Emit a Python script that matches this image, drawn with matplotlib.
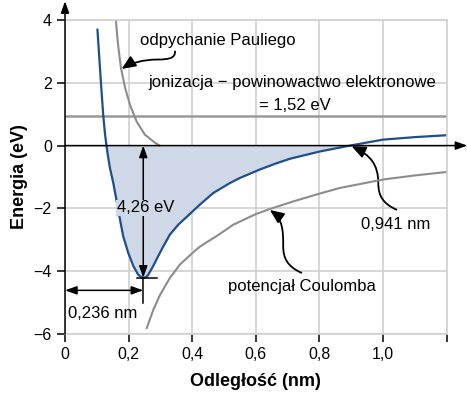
import numpy as np
import matplotlib.pyplot as plt
from matplotlib.patches import FancyArrowPatch
from matplotlib.path import Path

plt.rcParams['font.family'] = ['Liberation Sans', 'DejaVu Sans']

# energia czasteczki (niebieska krzywa)
r_mol = [0.102, 0.113, 0.120, 0.126, 0.133, 0.141, 0.152, 0.162, 0.173, 0.183,
         0.199, 0.215, 0.230, 0.240, 0.249, 0.256, 0.262, 0.277, 0.293, 0.309,
         0.330, 0.356, 0.388, 0.424, 0.466, 0.519, 0.55, 0.613, 0.66, 0.707,
         0.80, 0.896, 1.0, 1.1, 1.2]
e_mol = [3.69, 2.0, 0.99, 0.35, -0.2, -0.7, -1.2, -1.75, -2.36, -2.89,
         -3.42, -3.84, -4.11, -4.19, -4.21, -4.18, -4.11, -3.84, -3.52, -3.21,
         -2.83, -2.52, -2.22, -1.88, -1.51, -1.19, -1.03, -0.76, -0.58, -0.42,
         -0.19, 0.0, 0.19, 0.27, 0.33]

# odpychanie Pauliego
r_pauli = [0.160, 0.164, 0.168, 0.176, 0.189, 0.204, 0.225, 0.251, 0.283, 0.298]
e_pauli = [4.0, 3.5, 3.11, 2.47, 1.84, 1.31, 0.77, 0.35, 0.09, 0.0]

# potencjal Coulomba
r_coul = [0.257, 0.278, 0.299, 0.330, 0.346, 0.361, 0.403, 0.424, 0.445, 0.477,
          0.529, 0.60, 0.644, 0.717, 0.80, 0.864, 1.0, 1.1, 1.2]
e_coul = [-5.81, -5.22, -4.75, -4.21, -4.0, -3.79, -3.40, -3.22, -3.08, -2.88,
          -2.52, -2.18, -2.02, -1.78, -1.53, -1.35, -1.08, -0.95, -0.84]

e_ion = 0.955      # poziom jonizacja - powinowactwo (rysunek)
r_min = 0.246
e_min = -4.21

blue = '#1f4f8b'
gray = '#8c8c8c'
fs = 12

fig = plt.figure(figsize=(4.67, 3.96), dpi=100)
ax = fig.add_axes([0.1392, 0.1566, 0.8173, 0.7929])
ax.set_xlim(0, 1.2)
ax.set_ylim(-6, 4)

ax.set_xticks([0, 0.2, 0.4, 0.6, 0.8, 1.0, 1.2])
ax.set_xticklabels(['0', '0,2', '0,4', '0,6', '0,8', '1,0', ''])
ax.set_yticks([-6, -4, -2, 0, 2, 4])
ax.set_yticklabels(['\u22126', '\u22124', '\u22122', '0', '2', '4'])
ax.tick_params(labelsize=11.5, length=6, width=1.1, color='black')
ax.grid(True, color='#d0d0d0', lw=1.2)
ax.set_axisbelow(True)
for s in ['top', 'right', 'bottom']:
    ax.spines[s].set_color('#d0d0d0')
    ax.spines[s].set_linewidth(1.2)
ax.spines['left'].set_visible(False)

# osie ze strzalkami
ax.annotate('', xy=(0, 4.6), xytext=(0, -6), annotation_clip=False,
            arrowprops=dict(arrowstyle='-|>,head_length=0.7,head_width=0.25',
                            color='black', lw=1.1, shrinkA=0, shrinkB=0))
ax.annotate('', xy=(1.265, 0), xytext=(0, 0), annotation_clip=False,
            arrowprops=dict(arrowstyle='-|>,head_length=0.7,head_width=0.25',
                            color='black', lw=1.1, shrinkA=0, shrinkB=0))

r_arr = np.array(r_mol)
e_arr = np.array(e_mol)
ax.fill_between(r_arr, e_arr, 0, where=e_arr <= 0, interpolate=True,
                color='#cfd8e6', lw=0)

ax.axhline(e_ion, color='#999999', lw=1.8)
ax.plot(r_pauli, e_pauli, color=gray, lw=1.5)
ax.plot(r_coul, e_coul, color=gray, lw=1.5)
ax.plot(r_mol, e_mol, color=blue, lw=1.6)

# strzalka 4,26 eV
ax.plot([r_min, r_min], [e_min, -5.0], color='black', lw=1.1)
ax.plot([0.225, 0.288], [e_min, e_min], color='black', lw=1.1)
ax.annotate('', xy=(r_min, 0), xytext=(r_min, e_min),
            arrowprops=dict(arrowstyle='<|-|>,head_length=0.7,head_width=0.25',
                            color='black', lw=1.1, shrinkA=0, shrinkB=0))
ax.text(0.253, -1.98, '4,26 eV', ha='center', va='center', fontsize=fs,
        bbox=dict(facecolor='#cfd8e6', edgecolor='none', pad=0.5))

# strzalka 0,236 nm
ax.annotate('', xy=(r_min, -4.61), xytext=(0, -4.61),
            arrowprops=dict(arrowstyle='<|-|>,head_length=0.7,head_width=0.25',
                            color='black', lw=1.1, shrinkA=0, shrinkB=0))
ax.text(0.118, -5.35, '0,236 nm', ha='center', va='center', fontsize=fs)

ax.text(0.479, 3.34, 'odpychanie Pauliego', ha='center', va='center', fontsize=fs)
ax.text(0.714, 2.0, 'jonizacja \u2212 powinowactwo elektronowe', ha='center',
        va='center', fontsize=fs)
ax.text(0.724, 1.27, '= 1,52 eV', ha='center', va='center', fontsize=fs)
ax.text(1.04, -2.52, '0,941 nm', ha='center', va='center', fontsize=fs)
ax.text(0.744, -4.49, 'potencja\u0142 Coulomba', ha='center', va='center', fontsize=fs)

C = Path.CURVE4
curves = [
    [(0.346, 3.0), (0.346, 2.82), (0.335, 2.74), (0.290, 2.74),
     (0.245, 2.74), (0.205, 2.62), (0.178, 2.44)],
    [(1.042, -2.04), (1.00, -1.85), (0.985, -1.6), (0.985, -1.2),
     (0.985, -0.6), (0.96, -0.3), (0.901, -0.02)],
    [(0.743, -4.05), (0.70, -3.85), (0.686, -3.6), (0.686, -3.2),
     (0.686, -2.7), (0.685, -2.35), (0.644, -2.05)],
]
for pts in curves:
    p = Path(pts, [Path.MOVETO, C, C, C, C, C, C])
    ax.add_patch(FancyArrowPatch(path=p, arrowstyle='-|>,head_length=0.7,head_width=0.3',
                                 mutation_scale=12, color='black', lw=1.3))

ax.set_xlabel('Odleg\u0142o\u015b\u0107 (nm)', fontsize=13, fontweight='bold', labelpad=8)
ax.set_ylabel('Energia (eV)', fontsize=13, fontweight='bold', labelpad=4)

fig.savefig('out.png', dpi=100)
